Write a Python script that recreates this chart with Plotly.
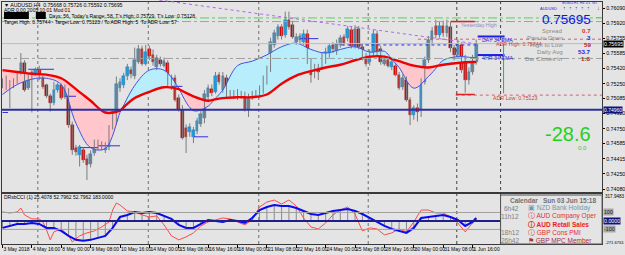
import plotly.graph_objects as go

# ----------------------------- data -----------------------------
BAR_INDEX = list(range(130))
OPEN = [0.7527, 0.7523, 0.7527, 0.7523, 0.7527, 0.7537, 0.7548, 0.7520, 0.7535, 0.7537,
        0.7540, 0.7531, 0.7523, 0.7511, 0.7504, 0.7518, 0.7523, 0.7510, 0.7513, 0.7479,
        0.7454, 0.7446, 0.7451, 0.7441, 0.7436, 0.7448, 0.7455, 0.7457, 0.7451, 0.7455,
        0.7477, 0.7483, 0.7520, 0.7524, 0.7533, 0.7540, 0.7534, 0.7549, 0.7563, 0.7547,
        0.7563, 0.7557, 0.7543, 0.7551, 0.7545, 0.7548, 0.7520, 0.7531, 0.7509, 0.7496,
        0.7476, 0.7471, 0.7466, 0.7473, 0.7480, 0.7487, 0.7510, 0.7519, 0.7516, 0.7535,
        0.7518, 0.7531, 0.7514, 0.7511, 0.7515, 0.7511, 0.7514, 0.7497, 0.7511, 0.7513,
        0.7513, 0.7517, 0.7527, 0.7540, 0.7568, 0.7578, 0.7588, 0.7579, 0.7596, 0.7590,
        0.7571, 0.7574, 0.7571, 0.7580, 0.7549, 0.7540, 0.7543, 0.7544, 0.7551, 0.7557,
        0.7568, 0.7561, 0.7568, 0.7577, 0.7576, 0.7585, 0.7566, 0.7586, 0.7566, 0.7556,
        0.7549, 0.7556, 0.7580, 0.7563, 0.7547, 0.7551, 0.7544, 0.7545, 0.7535, 0.7521,
        0.7529, 0.7507, 0.7490, 0.7498, 0.7496, 0.7527, 0.7551, 0.7574, 0.7589, 0.7579,
        0.7589, 0.7581, 0.7588, 0.7565, 0.7557, 0.7568, 0.7551, 0.7529, 0.7538, 0.7549]
HIGH = [0.7531, 0.7534, 0.7529, 0.7531, 0.7538, 0.7559, 0.7551, 0.7536, 0.7540, 0.7543,
        0.7545, 0.7534, 0.7525, 0.7514, 0.7527, 0.7526, 0.7525, 0.7524, 0.7520, 0.7483,
        0.7457, 0.7457, 0.7454, 0.7446, 0.7451, 0.7463, 0.7463, 0.7461, 0.7460, 0.7479,
        0.7496, 0.7533, 0.7531, 0.7537, 0.7547, 0.7544, 0.7565, 0.7568, 0.7567, 0.7568,
        0.7567, 0.7563, 0.7557, 0.7555, 0.7554, 0.7551, 0.7535, 0.7535, 0.7513, 0.7501,
        0.7480, 0.7481, 0.7477, 0.7487, 0.7496, 0.7518, 0.7524, 0.7524, 0.7538, 0.7538,
        0.7538, 0.7535, 0.7518, 0.7518, 0.7519, 0.7517, 0.7516, 0.7514, 0.7517, 0.7518,
        0.7523, 0.7534, 0.7545, 0.7576, 0.7585, 0.7591, 0.7591, 0.7605, 0.7605, 0.7595,
        0.7581, 0.7581, 0.7585, 0.7585, 0.7553, 0.7547, 0.7547, 0.7560, 0.7565, 0.7570,
        0.7571, 0.7574, 0.7579, 0.7580, 0.7589, 0.7588, 0.7590, 0.7589, 0.7569, 0.7559,
        0.7563, 0.7585, 0.7584, 0.7567, 0.7556, 0.7555, 0.7553, 0.7548, 0.7538, 0.7535,
        0.7533, 0.7510, 0.7501, 0.7503, 0.7531, 0.7555, 0.7578, 0.7588, 0.7596, 0.7594,
        0.7595, 0.7596, 0.7594, 0.7568, 0.7574, 0.7571, 0.7557, 0.7543, 0.7557, 0.7574]
LOW = [0.7520, 0.7518, 0.7498, 0.7520, 0.7525, 0.7535, 0.7516, 0.7518, 0.7493, 0.7534,
       0.7529, 0.7519, 0.7509, 0.7494, 0.7501, 0.7515, 0.7507, 0.7508, 0.7476, 0.7446,
       0.7445, 0.7433, 0.7437, 0.7418, 0.7432, 0.7445, 0.7451, 0.7451, 0.7448, 0.7451,
       0.7474, 0.7479, 0.7516, 0.7520, 0.7529, 0.7531, 0.7530, 0.7547, 0.7545, 0.7545,
       0.7551, 0.7545, 0.7540, 0.7544, 0.7543, 0.7520, 0.7518, 0.7505, 0.7494, 0.7463,
       0.7448, 0.7466, 0.7459, 0.7469, 0.7477, 0.7481, 0.7507, 0.7511, 0.7514, 0.7524,
       0.7515, 0.7510, 0.7508, 0.7508, 0.7507, 0.7508, 0.7494, 0.7488, 0.7507, 0.7509,
       0.7509, 0.7514, 0.7524, 0.7538, 0.7565, 0.7574, 0.7574, 0.7576, 0.7585, 0.7575,
       0.7568, 0.7569, 0.7568, 0.7547, 0.7526, 0.7531, 0.7529, 0.7540, 0.7547, 0.7554,
       0.7559, 0.7557, 0.7565, 0.7567, 0.7572, 0.7564, 0.7564, 0.7563, 0.7551, 0.7544,
       0.7545, 0.7554, 0.7557, 0.7546, 0.7545, 0.7543, 0.7540, 0.7533, 0.7518, 0.7518,
       0.7505, 0.7479, 0.7485, 0.7483, 0.7488, 0.7524, 0.7548, 0.7570, 0.7576, 0.7576,
       0.7577, 0.7577, 0.7560, 0.7551, 0.7554, 0.7537, 0.7515, 0.7524, 0.7535, 0.7546]
CLOSE = [0.7524, 0.7529, 0.7523, 0.7529, 0.7535, 0.7548, 0.7518, 0.7534, 0.7538, 0.7540,
         0.7531, 0.7521, 0.7511, 0.7503, 0.7518, 0.7523, 0.7509, 0.7520, 0.7479, 0.7451,
         0.7449, 0.7455, 0.7440, 0.7435, 0.7447, 0.7458, 0.7458, 0.7456, 0.7457, 0.7476,
         0.7493, 0.7525, 0.7527, 0.7534, 0.7543, 0.7536, 0.7551, 0.7563, 0.7547, 0.7560,
         0.7556, 0.7549, 0.7554, 0.7547, 0.7550, 0.7523, 0.7531, 0.7507, 0.7496, 0.7465,
         0.7466, 0.7477, 0.7474, 0.7484, 0.7491, 0.7513, 0.7520, 0.7515, 0.7534, 0.7527,
         0.7534, 0.7514, 0.7511, 0.7515, 0.7511, 0.7514, 0.7497, 0.7510, 0.7514, 0.7515,
         0.7520, 0.7530, 0.7541, 0.7571, 0.7581, 0.7588, 0.7578, 0.7596, 0.7588, 0.7577,
         0.7577, 0.7578, 0.7580, 0.7549, 0.7535, 0.7543, 0.7538, 0.7557, 0.7560, 0.7567,
         0.7563, 0.7569, 0.7576, 0.7570, 0.7586, 0.7567, 0.7586, 0.7566, 0.7556, 0.7547,
         0.7558, 0.7580, 0.7560, 0.7549, 0.7551, 0.7545, 0.7549, 0.7535, 0.7520, 0.7531,
         0.7507, 0.7490, 0.7498, 0.7493, 0.7527, 0.7551, 0.7574, 0.7584, 0.7579, 0.7589,
         0.7581, 0.7589, 0.7565, 0.7557, 0.7568, 0.7540, 0.7529, 0.7538, 0.7551, 0.75695]

MA_BARS = [0, 4, 8, 12, 16, 20, 24, 28, 32, 36, 40, 44, 48, 52, 56, 60, 64, 68, 72, 76,
           80, 84, 88, 92, 96, 100, 104, 108, 112, 116, 120, 124, 128, 129]
MA_SLOW = [0.7540, 0.7538, 0.7536, 0.7535, 0.7531, 0.7519, 0.7506, 0.7493, 0.7495, 0.7509,
           0.7516, 0.7521, 0.7519, 0.7511, 0.7506, 0.7509, 0.7510, 0.7510, 0.7513, 0.7525,
           0.7534, 0.7539, 0.7543, 0.7546, 0.7551, 0.7555, 0.7555, 0.7550, 0.7545, 0.7543,
           0.7546, 0.7548, 0.7549, 0.7549]
MA_FAST = [0.7513, 0.7524, 0.7530, 0.7531, 0.7524, 0.7481, 0.7454, 0.7453, 0.7493, 0.7523,
           0.7540, 0.7540, 0.7520, 0.7495, 0.7500, 0.7518, 0.7545, 0.7550, 0.7557, 0.7566,
           0.7570, 0.7563, 0.7559, 0.7563, 0.7566, 0.7560, 0.7561, 0.7543, 0.7520, 0.7533,
           0.7551, 0.7555, 0.7554, 0.7554]

# short swing-level segments: (start bar, end bar, price)
SWING_LEVELS = [(0, 1.5, 0.7493), (7, 14, 0.7541), (17, 20, 0.7511), (21, 26, 0.7454),
                (26, 32, 0.7456), (46, 49, 0.7522), (52, 56, 0.7466), (81, 86, 0.7575)]

CCI_MAIN_BARS = list(range(0, 129, 2)) + [129]
CCI_MAIN = [-82, -59, -35, -35, -24, -35, -82, -82, -118, -176,
            -223, -235, -223, -200, -176, -82, 47, 71, 106, 94,
            106, 94, 59, 24, -47, -82, -82, -35, 12, 0,
            -12, 12, 0, -24, 35, 129, 165, 188, 176, 176,
            153, 118, 82, 71, 94, 118, 129, 141, 118, 82,
            35, -12, -59, -94, -118, -141, -82, 35, 47, 59,
            71, 47, 12, -59, -12, 35]
CCI_SIG_BARS = [0, 2, 4, 5, 6, 8, 10, 11, 12, 13, 14, 16, 18, 19, 21, 23, 25, 27, 29, 30,
                31, 32, 34, 36, 38, 40, 42, 44, 46, 48, 50, 52, 54, 56, 58, 60, 62, 64, 66, 68,
                70, 72, 74, 76, 78, 80, 82, 84, 86, 88, 90, 92, 94, 96, 98, 100, 102, 104, 106, 108,
                110, 112, 114, 116, 118, 120, 122, 124, 126, 128, 129]
CCI_SIG = [106, 94, 106, 153, 71, 24, 24, -12, -106, -223, -129, -94, -176, -247, -176, -141, -118, -71, -12, 129,
           212, 188, 118, 106, 71, 47, 59, -47, -176, -223, -188, -141, -59, -12, 12, 35, 24, -12, -47, 12,
           165, 223, 247, 200, 247, 176, 35, -71, -94, -24, 71, 129, 165, 82, -118, -82, -94, -165, -141, -94,
           -129, -12, 129, 129, 94, 94, 47, -24, -129, -24, 12]

PRICE_TICKS = [0.76090, 0.75920, 0.75755, 0.75585, 0.75420, 0.75250, 0.75085,
               0.74920, 0.74750, 0.74585, 0.74415, 0.74250, 0.74080]
DATE_LABEL_BARS = [0, 8, 16, 24, 32, 40, 48, 56, 64, 72, 80, 88, 96, 104, 112, 120, 128]
DATE_LABELS = ["3 May 2018", "4 May 16:00", "8 May 00:00", "9 May 08:00", "10 May 16:00",
               "14 May 00:00", "15 May 08:00", "16 May 16:00", "18 May 00:00", "21 May 08:00",
               "22 May 16:00", "24 May 00:00", "25 May 08:00", "28 May 16:00", "30 May 00:00",
               "31 May 08:00", "1 Jun 16:00"]
CCI_SCALE = [317.9483, -271.6761]
CCI_LEVELS = [100, 0, -100]

CURRENT = 0.75695
SUPPORT = 0.74960
ADR_HIGH = 0.75744
ADR_LOW = 0.75123
YEST_HIGH = 0.7594
YEST_LOW = 0.7513
GREEN_LEVEL = 0.7598
GRAY_LEVELS = [0.7594, 0.7553]
DOT_LEVEL = 0.7568
DAY_EMA = 0.75774
H4_EMA = 0.75568

INFO_LABELS = ["Spread", "Pips to Open", "High to Low", "Daily Avg", "Bar Closes In"]
INFO_VALUES = ["0.7", "3", "59", "53.7", "1:8"]
INFO_COLORS = ["#D03030", "#1E1EE6", "#B02020", "#1E1EE6", "#A02828"]
TF_LABELS = ["M5", "M15", "H1", "H4", "D1", "W1"]
CAL_ROWS = [("6h42", "\u25a3 NZD Bank Holiday", "#6E9AAE"),
            ("11h12", "\u24d8 AUD Company Oper", "#E03030"),
            ("", "\u24d8 AUD Retail Sales", "#F01818"),
            ("18h12", "\u24d8 GBP Cons PMI", "#E03030"),
            ("26h42", "\u2691 GBP MPC Member", "#A83030")]

# ----------------------------- helpers -----------------------------
W, H = 625, 255
BG = "#E4E4E4"
FONT = "Liberation Sans"


def px(x):
    return x / W


def py(y):
    return 1 - y / H


fig = go.Figure()


def split_regions(xs, a, b):
    segs = []
    X, A, B = [xs[0]], [a[0]], [b[0]]
    sgn = (b[0] - a[0]) >= 0
    for i in range(1, len(xs)):
        d0 = b[i - 1] - a[i - 1]
        d1 = b[i] - a[i]
        if (d0 >= 0) != (d1 >= 0):
            t = d0 / (d0 - d1)
            xc = xs[i - 1] + t * (xs[i] - xs[i - 1])
            yc = a[i - 1] + t * (a[i] - a[i - 1])
            X.append(xc); A.append(yc); B.append(yc)
            segs.append((X, A, B, sgn))
            X, A, B = [xc], [yc], [yc]
            sgn = d1 >= 0
        X.append(xs[i]); A.append(a[i]); B.append(b[i])
    segs.append((X, A, B, sgn))
    return segs


segs = split_regions(MA_BARS, MA_SLOW, MA_FAST)
fullX, fullA, fullB = [], [], []
for X, A, B, s in segs:
    fig.add_trace(go.Scatter(x=X, y=A, mode="lines", line=dict(width=0, shape="spline"),
                             hoverinfo="skip", xaxis="x", yaxis="y"))
    fig.add_trace(go.Scatter(x=X, y=B, mode="lines", line=dict(width=0, shape="spline"),
                             fill="tonexty", fillcolor="#B8EEFB" if s else "#FFC6CC",
                             hoverinfo="skip", xaxis="x", yaxis="y"))
    fullX += X; fullA += A; fullB += B

# swing-level segments
sx, sy = [], []
for b0, b1, p in SWING_LEVELS:
    sx += [b0, b1, None]
    sy += [p, p, None]
fig.add_trace(go.Scatter(x=sx, y=sy, mode="lines", line=dict(color="#3030E0", width=1),
                         hoverinfo="skip", xaxis="x", yaxis="y"))

# wicks
wx, wy = [], []
for b, h, l in zip(BAR_INDEX, HIGH, LOW):
    wx += [b, b, None]
    wy += [l, h, None]
fig.add_trace(go.Scatter(x=wx, y=wy, mode="lines", line=dict(color="#7C7C7C", width=1),
                         hoverinfo="skip", xaxis="x", yaxis="y"))
# bodies
base = [min(o, c) for o, c in zip(OPEN, CLOSE)]
height = [max(abs(c - o), 0.00005) for o, c in zip(OPEN, CLOSE)]
cols = ["#1FA6EA" if c >= o else "#E30000" for o, c in zip(OPEN, CLOSE)]
edge = ["#1A5E9A" if c >= o else "#8A0000" for o, c in zip(OPEN, CLOSE)]
fig.add_trace(go.Bar(x=BAR_INDEX, y=height, base=base, width=0.72,
                     marker=dict(color=cols, line=dict(width=0.4, color=edge)), hoverinfo="skip",
                     xaxis="x", yaxis="y"))

# MA lines
fig.add_trace(go.Scatter(x=fullX, y=fullB, mode="lines", line=dict(color="#3A55E6", width=1, shape="spline"),
                         hoverinfo="skip", xaxis="x", yaxis="y"))
fig.add_trace(go.Scatter(x=fullX, y=fullA, mode="lines", line=dict(color="#F00000", width=2.4, shape="spline"),
                         hoverinfo="skip", xaxis="x", yaxis="y"))

# indicator histogram
hx, hy = [], []
for b, v in zip(CCI_MAIN_BARS, CCI_MAIN):
    hx += [b, b, None]
    hy += [0, v, None]
fig.add_trace(go.Scatter(x=hx, y=hy, mode="lines", line=dict(color="#8A8A8A", width=1),
                         hoverinfo="skip", xaxis="x2", yaxis="y2"))
fig.add_trace(go.Scatter(x=CCI_SIG_BARS, y=CCI_SIG, mode="lines", line=dict(color="#FF4A4A", width=1),
                         hoverinfo="skip", xaxis="x2", yaxis="y2"))
fig.add_trace(go.Scatter(x=CCI_MAIN_BARS, y=CCI_MAIN, mode="lines", line=dict(color="#0A0AF0", width=2),
                         hoverinfo="skip", xaxis="x2", yaxis="y2"))

# ----------------------------- layout -----------------------------
XR = [-0.1355, 163.28]
YR = [0.74047, 0.76157]
Y2R = [-272, 318]
LINE = "#3A3A3A"
tickfont = dict(family=FONT, size=5.3, color="#000000")

fig.update_layout(
    width=W, height=H, margin=dict(l=0, r=0, t=0, b=0),
    paper_bgcolor=BG, plot_bgcolor=BG, showlegend=False, bargap=0,
    xaxis=dict(domain=[px(2), px(605)], range=XR, anchor="y", showticklabels=False,
               showgrid=False, zeroline=False, showline=True, linecolor=LINE, linewidth=1, mirror=True),
    yaxis=dict(domain=[py(192), py(2)], range=YR, anchor="x", side="right",
               tickvals=PRICE_TICKS, ticktext=[f"{v:.5f}" for v in PRICE_TICKS],
               ticks="outside", ticklen=2, tickcolor="#000", tickfont=tickfont,
               showgrid=False, zeroline=False, showline=True, linecolor=LINE, linewidth=1, mirror=True),
    xaxis2=dict(domain=[px(2), px(605)], range=XR, anchor="y2", tickangle=0,
                tickvals=DATE_LABEL_BARS, ticktext=DATE_LABELS, ticklabelposition="outside right",
                ticks="outside", ticklen=3, tickcolor="#000",
                tickfont=dict(family=FONT, size=5, color="#000"),
                showgrid=False, zeroline=False, showline=True, linecolor=LINE, linewidth=1, mirror=True),
    yaxis2=dict(domain=[py(244), py(194)], range=Y2R, anchor="x2", side="right",
                showticklabels=False, ticks="", showgrid=False, zeroline=False,
                showline=True, linecolor=LINE, linewidth=1, mirror=True),
)

shapes = []
for xv, c in [(38, "#707070"), (149, "#707070"), (260, "#707070"), (370, "#707070"),
              (459, "#404040"), (503, "#404040")]:
    shapes.append(dict(type="line", xref="paper", yref="paper", x0=px(xv), x1=px(xv),
                       y0=py(244), y1=py(2), line=dict(color=c, width=1, dash="dot"), layer="below"))


def hline(y, x0, x1, color, width=1, dash="solid", ref="y"):
    shapes.append(dict(type="line", xref="paper", yref=ref, x0=px(x0), x1=px(x1), y0=y, y1=y,
                       line=dict(color=color, width=width, dash=dash)))


hline(GREEN_LEVEL, 2, 605, "#55D455", 1, "dashdot")
for g in GRAY_LEVELS:
    hline(g, 2, 605, "#A0A0A0", 1, "dashdot")
hline(CURRENT, 2, 605, "#BDBDBD", 1)
hline(SUPPORT, 2, 605, "#2E2E9E", 2)
hline(ADR_HIGH, 420, 605, "#D06070", 1, "dot")
hline(ADR_LOW, 458, 605, "#D06070", 1, "dot")
hline(YEST_HIGH, 453, 477, "#E02020", 1.5)
hline(YEST_LOW, 458, 477, "#E02020", 1.5)
hline(DOT_LEVEL, 343, 480, "#2A2AE0", 1, "dot")
hline(DAY_EMA, 480, 507, "#1E1EE6", 2)
hline(H4_EMA, 480, 507, "#1E1EE6", 2)
hline(100, 2, 605, "#A0A0A0", 1, ref="y2")
hline(-100, 2, 605, "#A0A0A0", 1, ref="y2")
hline(0, 2, 605, "#1E1E8C", 2, ref="y2")
shapes.append(dict(type="line", xref="paper", yref="y", x0=px(506), x1=px(506), y0=ADR_LOW + 0.0002,
                   y1=CURRENT - 0.00004, line=dict(color="#2DB52D", width=1)))
shapes.append(dict(type="line", xref="paper", yref="paper", x0=px(160), y0=py(0), x1=px(480), y1=py(44),
                   line=dict(color="#B366E6", width=1, dash="dot")))
shapes.append(dict(type="rect", xref="paper", yref="paper", x0=px(503), x1=px(605), y0=py(244), y1=py(195),
                   line=dict(color="#505050", width=1), fillcolor=BG))
shapes.append(dict(type="rect", xref="paper", yref="paper", x0=px(4), x1=px(29), y0=py(19), y1=py(12),
                   line=dict(width=0), fillcolor="#000"))
shapes.append(dict(type="rect", xref="paper", yref="paper", x0=px(36), x1=px(46), y0=py(19), y1=py(12),
                   line=dict(width=0), fillcolor="#000"))
fig.update_layout(shapes=shapes)

ann = []


def txt(x, y, s, size=5.5, color="#000", anchor="left", bold=False, family=FONT, yanchor="middle"):
    ann.append(dict(x=px(x), y=py(y), xref="paper", yref="paper", text=f"<b>{s}</b>" if bold else s,
                    showarrow=False, xanchor=anchor, yanchor=yanchor,
                    font=dict(family=family, size=size, color=color)))


txt(2, 5, "\u25bc AUDUSD,H4  0.75668 0.75726 0.75592 0.75695", 5.2)
txt(2, 10, "ADR 0.00 2005:10:01 Mod 01", 5)
txt(47, 16, "Days: 56, Today's Range: 58, T's High: 0.75729, T's Low: 0.75128", 5)
txt(2, 22, "Target High: 0.75744 - Target Low: 0.75123 / To ADR High: 5  To ADR Low: 57", 5)
txt(2, 197, "DRsbCCI (1) 25.4078 52.7962 52.7962 183.0000", 5)

txt(461, 25, "Yesterday High", 5.3, "#8C8CC8")
txt(482, 39.5, "DAY 34 EMA", 5.3, "#1E1EE6")
txt(482, 58, "4HR 34 EMA", 5.3, "#1E1EE6")
txt(496, 44, "ADR High: 0.75744", 5.3, "#C83C3C")
txt(493, 98, "ADR Low: 0.75123", 5.3, "#C83C3C")

txt(541, 8.5, "AUDUSD", 4, "#1E1EE6")
for i, lab in enumerate(TF_LABELS):
    xx = 567 + i * 6
    txt(xx, 3, lab, 3.3, "#1E1EE6", "center")
    if i < 5:
        txt(xx, 8, "\u2191", 5, "#1E1EE6", "center", True)
txt(601, 8.5, "\u2193", 6, "#E61E1E", "center", True)
txt(601, 17, "\u2014", 5, "#2DB52D", "center")
txt(596, 19.5, f"{CURRENT:.5f}", 13.5, "#1414E6", "right")
for i, (lab, val, c) in enumerate(zip(INFO_LABELS, INFO_VALUES, INFO_COLORS)):
    yy = 30 + i * 7.2
    txt(568, yy, lab, 6.2, "#8A8A8A", "right")
    txt(596, yy, val, 6.2, c, "right", True)
txt(596, 134, "-28.6", 20, "#1ED21E", "right")
txt(592, 148, "0.0", 6, "#3CC83C", "right")

txt(510, 200, "Calendar", 6.5, "#707070", bold=True)
txt(601, 200, "Sun 03 Jun 15:18", 6.5, "#707070", "right", True)
for i, (t, ev, c) in enumerate(CAL_ROWS):
    yy = 208 + i * 8
    if t:
        txt(524, yy, t, 6.5, "#808080", "right")
    txt(529, yy, ev, 6.5, c, bold=(i == 2))


def box(yv, yref, s, bg, fg="#FFFFFF", size=5.3):
    ann.append(dict(x=px(606), y=yv, xref="paper", yref=yref, text=s, showarrow=False,
                    xanchor="left", yanchor="middle", bgcolor=bg, borderpad=0,
                    font=dict(family=FONT, size=size, color=fg)))


box(CURRENT, "y", f"{CURRENT:.5f}", "#000000")
box(SUPPORT, "y", f"{SUPPORT:.5f}", "#12127A", size=5)
box(CCI_LEVELS[0], "y2", str(CCI_LEVELS[0]), "#A8A8A8", "#202020")
box(CCI_LEVELS[1], "y2", f"{CCI_LEVELS[1]:.4f}", "#12127A")
box(CCI_LEVELS[2], "y2", str(CCI_LEVELS[2]), "#A8A8A8", "#202020")
ann.append(dict(x=px(606), y=py(196), xref="paper", yref="paper", text=f"{CCI_SCALE[0]:.4f}",
                showarrow=False, xanchor="left", yanchor="middle",
                font=dict(family=FONT, size=4.6, color="#000")))
ann.append(dict(x=px(606), y=py(242), xref="paper", yref="paper", text=f"{CCI_SCALE[1]:.4f}",
                showarrow=False, xanchor="left", yanchor="middle",
                font=dict(family=FONT, size=4.2, color="#000")))

fig.update_layout(annotations=ann)
fig.write_html("out.html")
